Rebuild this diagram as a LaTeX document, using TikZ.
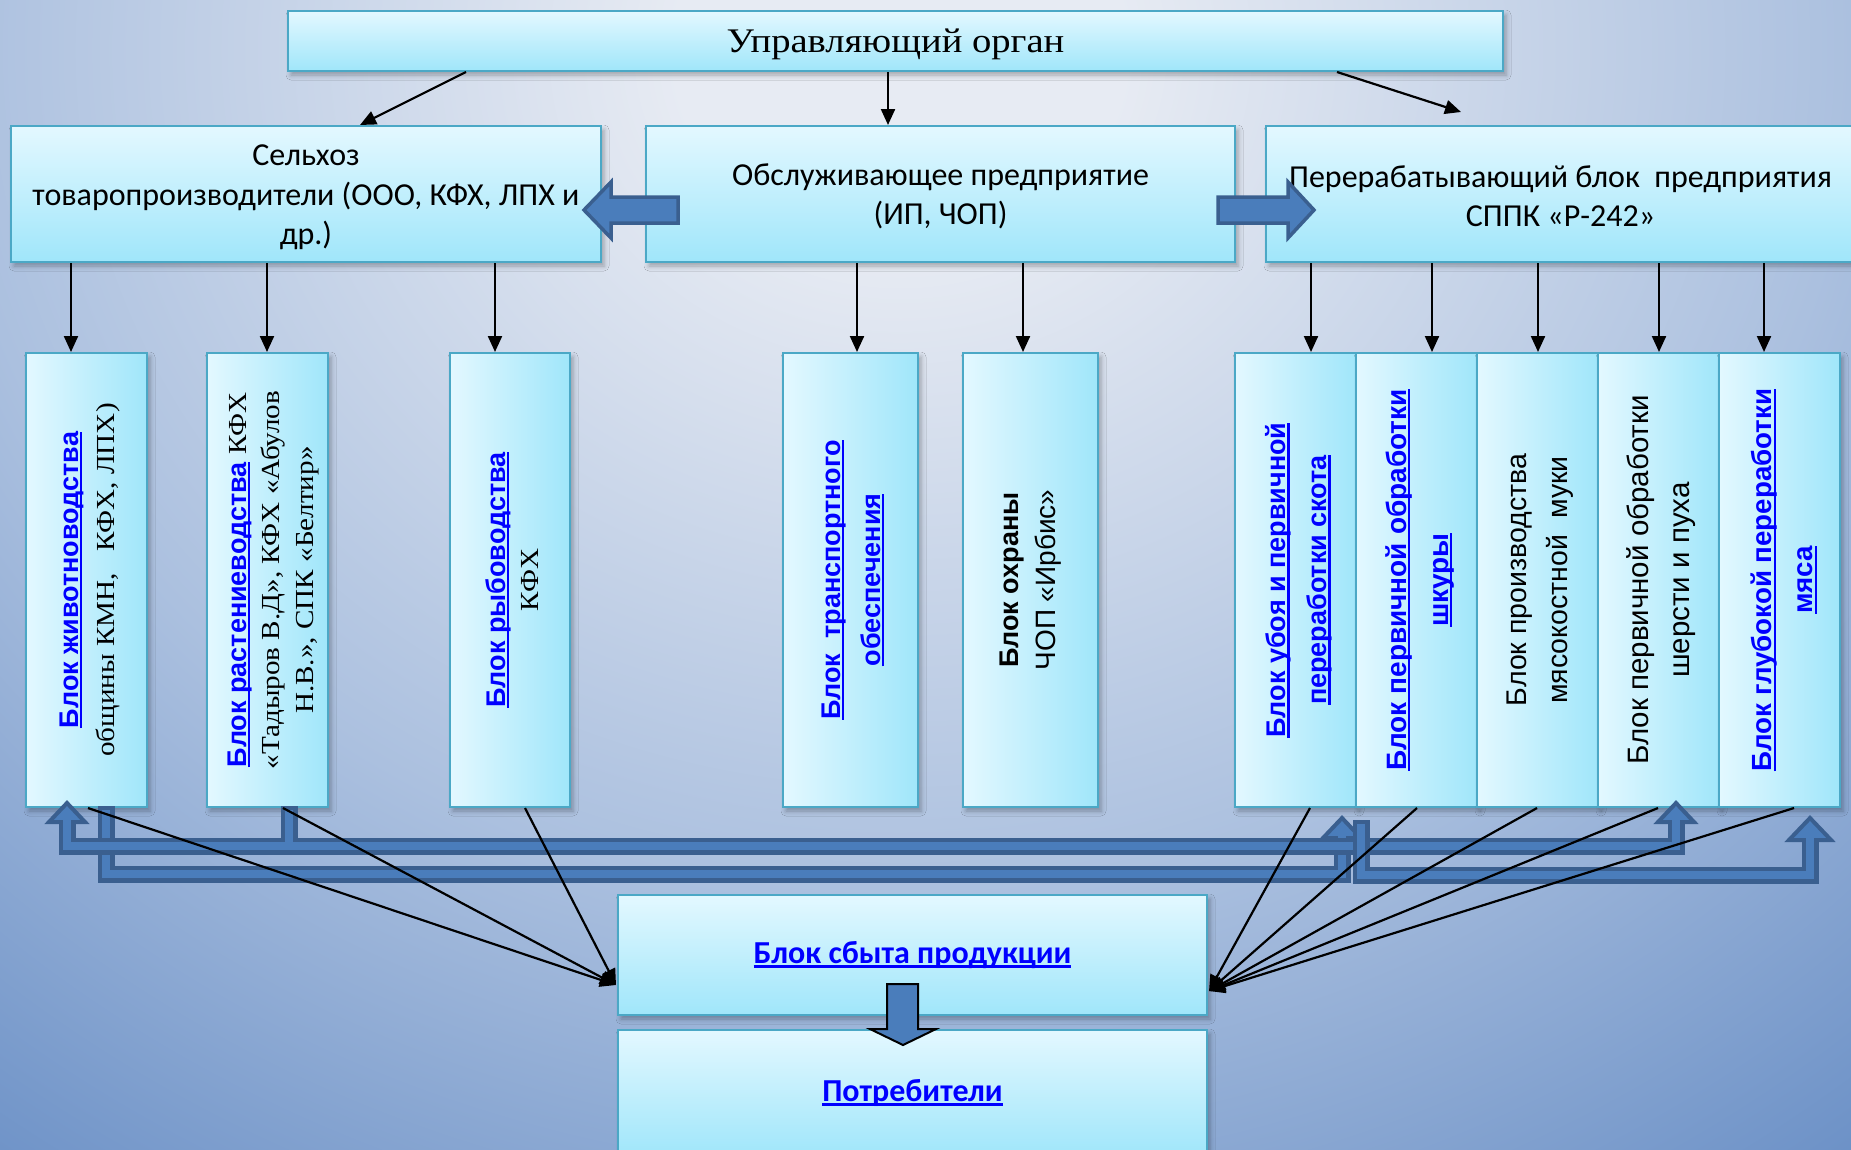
\documentclass[tikz,border=0pt]{standalone}
\usepackage{fontspec}
\usetikzlibrary{arrows.meta,shadows.blur}
\setmainfont{Liberation Serif}
\newfontfamily\calib{Carlito}
\newfontfamily\arial{Liberation Sans}
\newfontfamily\camb[FakeStretch=1.12]{Liberation Serif}
\definecolor{bgA}{HTML}{E7EBF3}
\definecolor{bgM}{HTML}{ABC0DF}
\definecolor{bgB}{HTML}{6088C2}
\definecolor{boxL}{HTML}{E3F8FF}
\definecolor{boxD}{HTML}{A0E6FA}
\definecolor{boxB}{HTML}{4BA8C6}
\definecolor{arrF}{HTML}{4A7DBB}
\definecolor{arrD}{HTML}{3A5F8F}
\definecolor{lnk}{HTML}{0000FF}
\pgfdeclareradialshading{bgshade}{\pgfpoint{0bp}{0bp}}{color(0bp)=(bgA); color(4bp)=(bgA); color(17bp)=(bgM); color(30bp)=(bgB); color(50bp)=(bgB)}
\newcommand\ulk[1]{{\setbox0=\hbox{\textcolor{lnk}{\bfseries #1}}\rlap{\textcolor{lnk}{\rule[-0.14em]{\wd0}{0.08em}}}\box0}}
\newcommand\srf{\color{black}\camb\fontsize{26}{33}\selectfont}
\tikzset{
  hb/.style={draw=boxB, line width=2pt, top color=boxL, bottom color=boxD, inner sep=0pt,
    blur shadow={shadow xshift=3pt, shadow yshift=-4pt, shadow blur radius=5pt, shadow opacity=30}},
  vb/.style={draw=boxB, line width=2pt, left color=boxL, right color=boxD, inner sep=0pt,
    minimum width=121pt, minimum height=454pt,
    blur shadow={shadow xshift=3pt, shadow yshift=-4pt, shadow blur radius=5pt, shadow opacity=30}},
  vt/.style={rotate=90, align=center, inner sep=0pt, text=black},
  ht/.style={align=center, inner sep=0pt, font=\calib\fontsize{32}{39}\selectfont},
  conn/.style={line width=2.2pt, -{Triangle[length=16pt,width=14pt]}},
  bandout/.style={line width=17pt, arrD, line join=miter},
  bandin/.style={line width=8pt, arrF, line join=miter},
  bhead/.style={fill=arrF, draw=arrD, line width=4pt, line join=miter},
  blockarr/.style={fill=arrF, draw=arrD, line width=3.5pt, line join=miter},
}
\begin{document}
\begin{tikzpicture}[x=1pt,y=-1pt]
\useasboundingbox (0,0) rectangle (1851,1149);
\clip (0,0) rectangle (1851,1149);
\fill[bgB] (0,0) rectangle (1851,1149);
\shade[shading=bgshade] (-500,-1200) rectangle (2300,1300);

% top row
\node[hb, minimum width=1215pt, minimum height=60pt] (top) at (895.5,41) {};
\node[font=\camb\fontsize{34.5}{40}\selectfont, inner sep=0pt] (topt) at (895.5,44) {Управляющий орган};
% second row
\node[hb, minimum width=590pt, minimum height=136pt] (L) at (306,194) {};
\node[hb, minimum width=589pt, minimum height=136pt] (M) at (940.5,194) {};
\node[hb, minimum width=589pt, minimum height=136pt] (R) at (1560.5,194) {};
\node[ht, font=\calib\fontsize{32}{39.5}\selectfont] (Lt) at (306,197.5) {Сельхоз\\товаропроизводители (ООО, КФХ, ЛПХ и\\др.)};
\node[ht] (Mt) at (940.5,196) {Обслуживающее предприятие\\(ИП, ЧОП)};
\node[ht] (Rt) at (1560.5,196) {Перерабатывающий блок\ \ предприятия\\СППК «Р-242»};

% vertical boxes
\node[vb] (v1) at (86.5,580) {};
\node[vb] (v2) at (267.5,580) {};
\node[vb, minimum width=120pt] (v3) at (510,580) {};
\node[vb, minimum width=135pt] (v4) at (850.5,580) {};
\node[vb, minimum width=135pt] (v5) at (1030.5,580) {};
\node[vb] (v6) at (1295.5,580) {};
\node[vb] (v7) at (1416.5,580) {};
\node[vb] (v8) at (1537.5,580) {};
\node[vb] (v9) at (1658.5,580) {};
\node[vb] (v10) at (1779.5,580) {};

\node[vt, font=\arial\fontsize{27}{36}\selectfont] (t1) at (90,580) {\ulk{Блок животноводства}\\{\srf общины КМН,\ \ \ КФХ, ЛПХ)}};
\node[vt, font=\arial\fontsize{27}{33.5}\selectfont] (t2) at (273,580) {\ulk{Блок растениеводства}\ {\srf КФХ}\\{\srf «Тадыров В.Д», КФХ «Абулов}\\{\srf Н.В.», СПК «Белтир»}};
\node[vt, font=\arial\fontsize{27}{33}\selectfont] (t3) at (512,580) {\ulk{Блок рыбоводства}\\{\srf КФХ}};
\node[vt, font=\arial\fontsize{27}{40}\selectfont] (t4) at (853,580) {\ulk{Блок\ \ транспортного}\\\ulk{обеспечения}};
\node[vt, font=\arial\fontsize{28}{37}\selectfont] (t5) at (1031,580) {{\bfseries\fontsize{27}{37}\selectfont Блок охраны}\\ЧОП «Ирбис»};
\node[vt, font=\arial\fontsize{27}{41}\selectfont] (t6) at (1299,580) {\ulk{Блок убоя и первичной}\\\ulk{переработки скота}};
\node[vt, font=\arial\fontsize{28}{42}\selectfont] (t7) at (1420,580) {\ulk{Блок первичной обработки}\\\ulk{шкуры}};
\node[vt, font=\arial\fontsize{28.5}{41}\selectfont] (t8) at (1540,580) {Блок производства\\мясокостной\ \ муки};
\node[vt, font=\arial\fontsize{29.5}{41}\selectfont] (t9) at (1661,580) {Блок первичной обработки\\шерсти и пуха};
\node[vt, font=\arial\fontsize{27.7}{41}\selectfont] (t10) at (1784,580) {\ulk{Блок глубокой переработки}\\\ulk{мяса}};

% bottom boxes
\node[hb, minimum width=589pt, minimum height=126pt, font=\calib\fontsize{32}{38}\selectfont] (pt) at (912.5,1093) {\ulk{Потребители}};
\node[hb, minimum width=589pt, minimum height=120pt, font=\calib\fontsize{32}{38}\selectfont] (sb) at (912.5,955) {\ulk{Блок сбыта продукции}};

% block arrows
\draw[blockarr] (678,197) -- (611,197) -- (611,182) -- (584,210) -- (611,238) -- (611,223) -- (678,223) -- cycle;
\draw[blockarr] (1218,197) -- (1288,197) -- (1288,182) -- (1314,210) -- (1288,238) -- (1288,223) -- (1218,223) -- cycle;
\draw[fill=arrF, draw=black, line width=2pt, line join=miter] (887,984) -- (918,984) -- (918,1029) -- (936,1029) -- (903,1045) -- (870,1029) -- (887,1029) -- cycle;

% thick bands: shape A
\draw[bandout] (106,806) -- (106,874) -- (1342,874) -- (1342,838);
\filldraw[bhead] (1342,818) -- (1361,838) -- (1323,838) -- cycle;
\draw[bandin] (106,810) -- (106,874) -- (1342,874) -- (1342,832);
% shape B
\draw[bandout] (67,822) -- (67,846) -- (1676,846) -- (1676,822);
\draw[bandout] (289,806) -- (289,846);
\filldraw[bhead] (67,803) -- (85,822) -- (49,822) -- cycle;
\filldraw[bhead] (1676,803) -- (1694,822) -- (1658,822) -- cycle;
\draw[bandin] (67,816) -- (67,846) -- (1676,846) -- (1676,816);
\draw[bandin] (289,810) -- (289,846);
% shape C
\draw[bandout] (1361,820) -- (1361,875) -- (1810,875) -- (1810,840);
\filldraw[bhead] (1810,818) -- (1831,840) -- (1789,840) -- cycle;
\draw[bandin] (1361,824) -- (1361,875) -- (1810,875) -- (1810,834);

% connectors from top
\coordinate (rt) at (1461,112);
\draw[conn] (top.south -| 466,0) -- (L.north -| 360,0);
\draw[conn] (top.south -| 888,0) -- (M.north -| 888,0);
\draw[conn] (top.south -| 1337,0) -- (rt);
% row 2 down
\draw[conn] (L.south -| 71,0) -- (v1.north -| 71,0);
\draw[conn] (L.south -| 267,0) -- (v2.north -| 267,0);
\draw[conn] (L.south -| 495,0) -- (v3.north -| 495,0);
\draw[conn] (M.south -| 857,0) -- (v4.north -| 857,0);
\draw[conn] (M.south -| 1023,0) -- (v5.north -| 1023,0);
\draw[conn] (R.south -| 1311,0) -- (v6.north -| 1311,0);
\draw[conn] (R.south -| 1432,0) -- (v7.north -| 1432,0);
\draw[conn] (R.south -| 1538,0) -- (v8.north -| 1538,0);
\draw[conn] (R.south -| 1659,0) -- (v9.north -| 1659,0);
\draw[conn] (R.south -| 1764,0) -- (v10.north -| 1764,0);
% converging
\coordinate (sbL) at (616,985);
\coordinate (sbR) at (1209,991);
\draw[conn] (v1.south -| 88,0) -- (sbL);
\draw[conn] (v2.south -| 283,0) -- (sbL);
\draw[conn] (v3.south -| 525,0) -- (sbL);
\draw[conn] (v6.south -| 1310,0) -- (sbR);
\draw[conn] (v7.south -| 1417,0) -- (sbR);
\draw[conn] (v8.south -| 1537,0) -- (sbR);
\draw[conn] (v9.south -| 1658,0) -- (sbR);
\draw[conn] (v10.south -| 1794,0) -- (sbR);
\end{tikzpicture}
\end{document}
